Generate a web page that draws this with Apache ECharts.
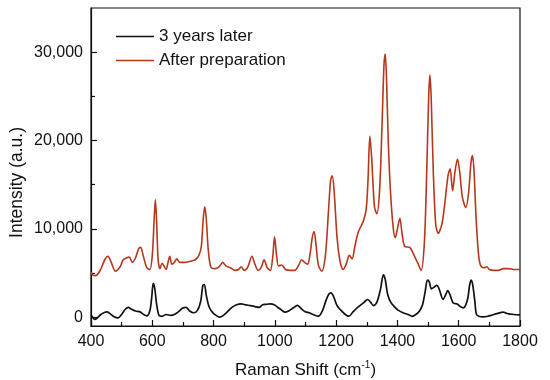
<!DOCTYPE html>
<html>
<head>
<meta charset="utf-8">
<script src="https://cdn.jsdelivr.net/npm/echarts@6/dist/echarts.min.js"></script>
<style>html,body{margin:0;padding:0;background:#fff}#c{width:550px;height:380px}</style>
</head>
<body>
<div id="c"></div>
<script>
// Raman shift (cm-1) and intensity (a.u.)
var laterShift = [400,405,412,420,432,445,452,462,475,488,500,512,522,532,545,560,572,582,592,598,603,608,614,622,632,645,660,672,685,698,710,722,735,748,758,765,770,776,785,795,808,820,832,845,860,875,890,905,920,935,948,960,970,985,998,1010,1022,1033,1045,1058,1074,1088,1100,1112,1125,1142,1155,1167,1176,1183,1192,1203,1215,1230,1242,1255,1270,1285,1295,1303,1312,1322,1333,1345,1354,1360,1368,1378,1390,1402,1418,1435,1448,1460,1472,1482,1490,1498,1504,1511,1520,1528,1535,1549,1557,1564,1572,1582,1595,1605,1615,1622,1630,1635,1640,1645,1652,1658,1668,1680,1695,1710,1725,1745,1760,1780,1800];
var laterIntensity = [300,0,-250,-100,300,550,600,400,50,-80,300,900,1100,900,700,600,300,150,700,2200,3800,3300,1500,200,100,300,200,300,600,1000,1100,700,500,800,1800,3600,3700,2500,1200,600,200,0,200,600,1100,1400,1500,1400,1300,1200,1100,1400,1450,1500,1400,1100,800,570,700,1000,1330,900,600,500,300,110,700,1900,2600,2750,2300,1300,800,300,110,600,1100,1500,1800,2000,1700,1300,1700,3200,4800,4300,2600,1700,1200,800,500,300,100,300,700,1400,2800,4200,4000,3200,3400,3600,3300,2000,2500,3000,2500,1600,1500,1200,1050,1300,2200,3500,4200,3800,2000,300,80,40,100,250,400,570,400,300,250];

var prepShift = [400,405,415,430,445,455,465,480,495,505,515,525,535,545,555,562,570,582,592,600,606,610,614,619,625,632,638,645,652,657,664,672,680,690,705,720,740,752,760,766,771,776,783,792,805,818,830,840,855,870,882,890,900,912,925,935,945,955,965,975,985,993,999,1005,1012,1022,1035,1050,1065,1078,1087,1097,1107,1115,1122,1128,1134,1142,1153,1165,1175,1182,1187,1193,1203,1213,1223,1233,1243,1252,1261,1272,1289,1298,1304,1310,1316,1325,1333,1342,1350,1356,1360,1364,1370,1377,1386,1393,1400,1408,1415,1424,1440,1457,1468,1477,1488,1496,1502,1506,1510,1517,1525,1533,1545,1555,1565,1572,1580,1588,1596,1603,1612,1623,1632,1640,1645,1650,1657,1665,1672,1682,1692,1700,1715,1730,1745,1760,1780,1800];
var prepIntensity = [5100,4800,4700,5300,6500,6900,6300,5200,5700,6500,6700,6800,6200,6700,7700,7900,7000,5600,5400,7000,11000,13300,11000,6500,5500,6100,5800,5400,6300,6900,6000,6200,6600,6200,6200,6300,6500,7000,8000,11000,12500,11200,7500,5600,5500,5700,6200,5800,5600,5300,5400,5700,5300,5700,6900,6000,5300,5600,6500,5600,5300,6800,9100,7200,5800,5900,5400,5300,5300,5900,6500,6200,6000,7200,9000,9700,8300,5900,5200,7000,12000,15500,16000,14500,9000,6300,5400,6000,7000,6600,8000,9600,10900,12200,15500,20500,18000,12500,11700,14500,22000,28500,29800,27500,20000,14400,10200,9000,10000,11200,9500,8000,7900,6800,6000,5300,8500,17000,25000,27400,25000,16500,10500,9500,10500,13000,16000,16800,14300,16500,17900,16500,13600,12400,14000,17500,18300,16500,11000,7000,5800,5600,5700,5400,5300,5300,5500,5500,5400,5400];

var seriesNames = ['3 years later', 'After preparation'];
var xTickLabels = [400,600,800,1000,1200,1400,1600,1800];
var yTickLabels = [0,10000,20000,30000];
var yMinorTicks = [5000,15000,25000];

function pairs(xs, ys){ return xs.map(function(x,i){ return [x, ys[i]]; }); }

var font = 'Liberation Sans, Arial, sans-serif';
var chart = echarts.init(document.getElementById('c'), null, {renderer:'canvas'});
var axisLineStyle = {color:'#111', width:1.2};
chart.setOption({
  animation:false,
  backgroundColor:'#fff',
  grid:{left:91, right:30, top:8, bottom:54, show:true, borderColor:'#111', borderWidth:1.2, containLabel:false, outerBoundsMode:'none'},
  legend:{
    show:true, orient:'vertical', left:111, top:23, icon:'rect', itemWidth:38, itemHeight:1.6, itemGap:7,
    textStyle:{fontFamily:font, fontSize:17, color:'#111', padding:[0,0,0,0]},
    data:seriesNames
  },
  xAxis:{
    type:'value', min:400, max:1800, interval:200,
    name:'Raman Shift (cm{sup|-1})', nameLocation:'middle', nameGap:34,
    nameTextStyle:{fontFamily:font, fontSize:17, color:'#111', lineHeight:20,
      rich:{sup:{fontFamily:font, fontSize:10, color:'#111', verticalAlign:'top', lineHeight:20, padding:[0,0,6,0]}}},
    axisLine:{show:true, onZero:false, lineStyle:axisLineStyle},
    axisTick:{show:true, inside:true, length:6, lineStyle:axisLineStyle, customValues:xTickLabels},
    minorTick:{show:true, splitNumber:2, length:4, lineStyle:{color:'#111', width:1.2}},
    axisLabel:{fontFamily:font, fontSize:16, color:'#111', margin:8, customValues:xTickLabels,
      formatter:function(v){ return String(v); }},
    splitLine:{show:false}
  },
  yAxis:[{
    type:'value', min:-1000, max:35000,
    axisLine:{show:true, onZero:false, lineStyle:axisLineStyle},
    axisTick:{show:true, inside:true, length:6, lineStyle:axisLineStyle, customValues:yTickLabels},
    axisLabel:{fontFamily:font, fontSize:16, color:'#111', margin:8, customValues:yTickLabels,
      formatter:function(v){ return Number(v).toLocaleString('en-US'); }},
    splitLine:{show:false}
  },{
    type:'value', min:-1000, max:35000, position:'left',
    axisLine:{show:false, onZero:false},
    axisTick:{show:true, inside:true, length:4, lineStyle:axisLineStyle, customValues:yMinorTicks},
    axisLabel:{show:false},
    splitLine:{show:false}
  }],
  graphic:[{
    type:'text', left:8, top:127, rotation:Math.PI/2,
    style:{text:'Intensity (a.u.)', fontFamily:font, fontSize:17.5, fill:'#111'}
  }],
  series:[{
    name:seriesNames[0], type:'line', data:pairs(laterShift, laterIntensity),
    symbol:'none', smooth:0.3, lineStyle:{color:'#111', width:1.7}, itemStyle:{color:'#111'}, z:3
  },{
    name:seriesNames[1], type:'line', data:pairs(prepShift, prepIntensity),
    symbol:'none', smooth:0.3, lineStyle:{color:'#b5381c', width:1.6}, itemStyle:{color:'#b5381c'}, z:2
  }]
});
</script>
</body>
</html>
